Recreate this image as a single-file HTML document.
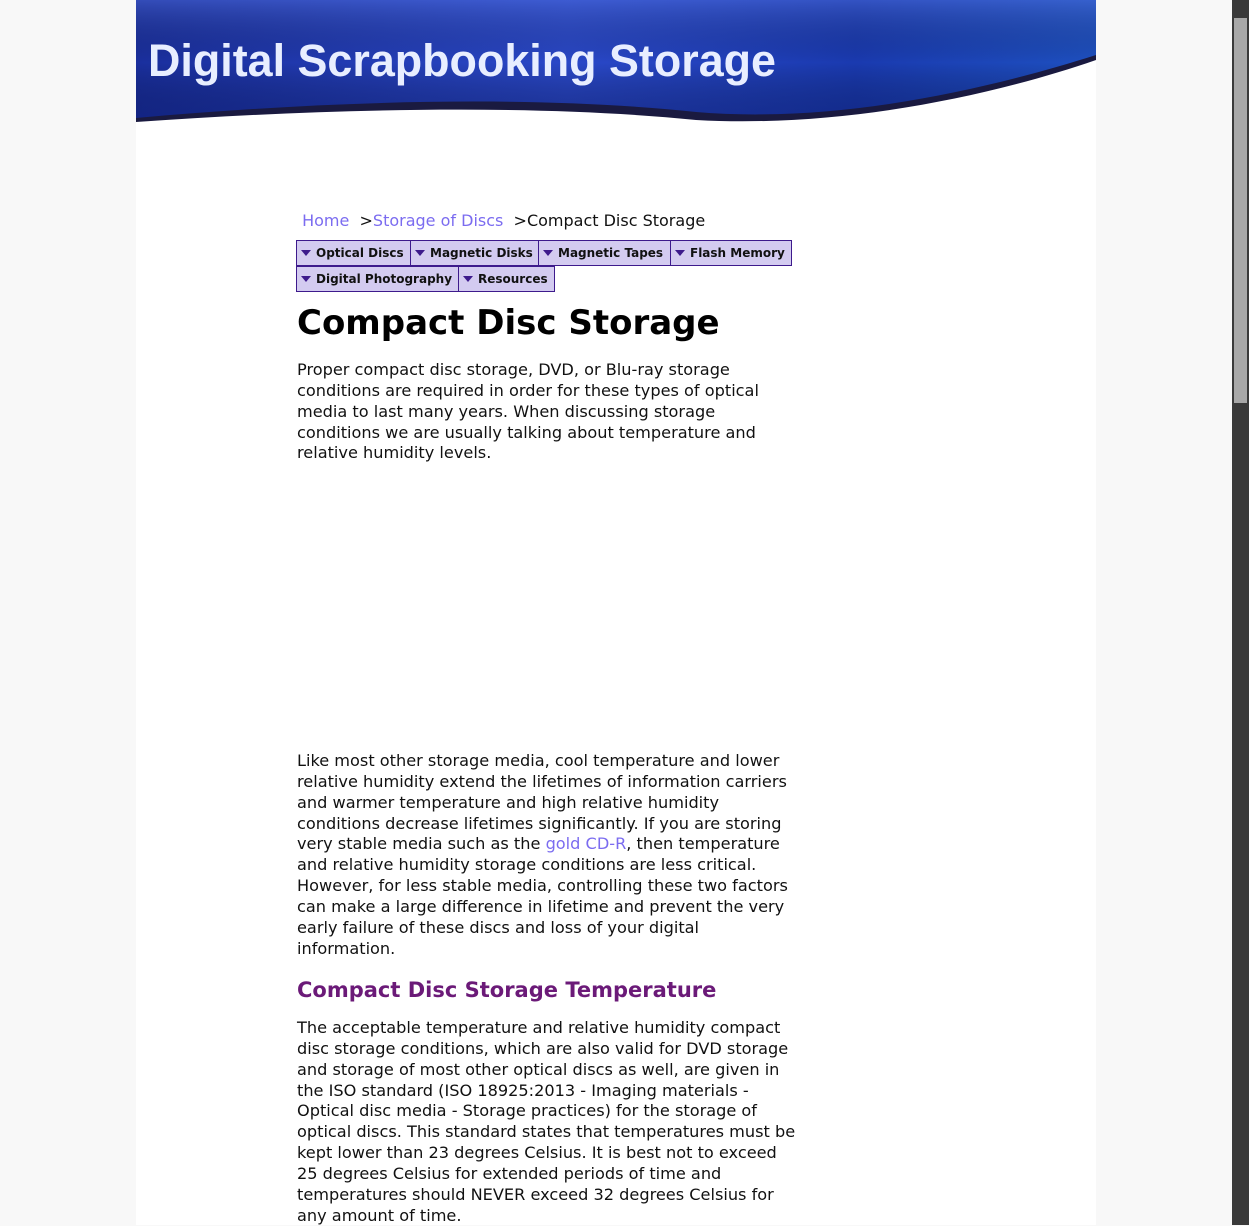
<!DOCTYPE html>
<html><head><style>
body{margin:0;background:#f8f8f8;width:1249px;height:1225px;overflow:hidden;font-family:"DejaVu Sans","Liberation Sans",sans-serif;position:relative}
#page{position:absolute;left:136px;top:0;width:960px;height:1225px;background:#fff}
#sb{position:absolute;left:1232px;top:0;width:17px;height:1225px;background:#3a3a3a}
#sb div{position:absolute;left:2px;top:18px;width:13px;height:385px;background:#a8a8a8}
.t{position:absolute;left:297px;font-size:16.15px;line-height:20.85px;color:#111;white-space:nowrap}
a{color:#7b6cf0;text-decoration:none}
.nav{position:absolute;height:24px;background:#d3cbf0;border:1px solid #3d1a8c;font-size:12px;font-weight:bold;line-height:24px;white-space:nowrap;color:#111;box-sizing:content-box;overflow:hidden}
.nav:before{content:"";display:inline-block;border-left:5px solid transparent;border-right:5px solid transparent;border-top:6px solid #3d1a8c;margin:0 5px 1px 4px;vertical-align:middle}
</style></head><body>
<div id="page"></div>
<svg style="position:absolute;left:136px;top:0" width="960" height="125">
<defs><linearGradient id="g" x1="0" y1="0" x2="1" y2="0"><stop offset="0" stop-color="#1a2f9e"/><stop offset="0.45" stop-color="#2a48c8"/><stop offset="0.75" stop-color="#1a3ab0"/><stop offset="1" stop-color="#1e50c0"/></linearGradient>
<linearGradient id="v" x1="0" y1="0" x2="0" y2="1"><stop offset="0" stop-color="#5a78e0" stop-opacity=".4"/><stop offset=".5" stop-color="#000" stop-opacity="0"/><stop offset="1" stop-color="#0a1a70" stop-opacity=".5"/></linearGradient></defs>
<rect width="960" height="125" fill="url(#g)"/><rect width="960" height="125" fill="url(#v)"/>
<path d="M0 123 L0 118 C200 100 400 95 560 112 C700 124 850 90 960 55 L960 125 L0 125Z" fill="#1a1a40"/>
<path d="M0 125 L0 122 C200 108 400 104 560 120 C700 128 850 98 960 60 L960 125Z" fill="#fff"/>
<text x="12" y="76" font-family="Liberation Sans,sans-serif" font-weight="bold" font-size="45" fill="#e8eeff" textLength="628" lengthAdjust="spacingAndGlyphs">Digital Scrapbooking Storage</text>
</svg>
<div class="t" style="top:211px;font-size:16px"><a>&nbsp;Home</a> &nbsp;&gt;<a>Storage of Discs</a> &nbsp;&gt;Compact Disc Storage</div>
<div class="nav" style="left:296px;top:240px;width:113px">Optical Discs</div>
<div class="nav" style="left:410px;top:240px;width:127px">Magnetic Disks</div>
<div class="nav" style="left:538px;top:240px;width:131px">Magnetic Tapes</div>
<div class="nav" style="left:670px;top:240px;width:120px">Flash Memory</div>
<div class="nav" style="left:296px;top:266px;width:161px">Digital Photography</div>
<div class="nav" style="left:458px;top:266px;width:95px">Resources</div>
<div class="t" style="top:301px;font-size:34px;line-height:44px;font-weight:bold;color:#000">Compact Disc Storage</div>
<div class="t" style="top:360px">Proper compact disc storage, DVD, or Blu-ray storage<br>conditions are required in order for these types of optical<br>media to last many years. When discussing storage<br>conditions we are usually talking about temperature and<br>relative humidity levels.</div>
<div class="t" style="top:751px">Like most other storage media, cool temperature and lower<br>relative humidity extend the lifetimes of information carriers<br>and warmer temperature and high relative humidity<br>conditions decrease lifetimes significantly. If you are storing<br>very stable media such as the <a>gold CD-R</a>, then temperature<br>and relative humidity storage conditions are less critical.<br>However, for less stable media, controlling these two factors<br>can make a large difference in lifetime and prevent the very<br>early failure of these discs and loss of your digital<br>information.</div>
<div class="t" style="top:976px;font-size:21px;line-height:28px;font-weight:bold;color:#6b1a78">Compact Disc Storage Temperature</div>
<div class="t" style="top:1018px">The acceptable temperature and relative humidity compact<br>disc storage conditions, which are also valid for DVD storage<br>and storage of most other optical discs as well, are given in<br>the ISO standard (ISO 18925:2013 - Imaging materials -<br>Optical disc media - Storage practices) for the storage of<br>optical discs. This standard states that temperatures must be<br>kept lower than 23 degrees Celsius. It is best not to exceed<br>25 degrees Celsius for extended periods of time and<br>temperatures should NEVER exceed 32 degrees Celsius for<br>any amount of time.</div>
<div id="sb"><div></div></div>
</body></html>
